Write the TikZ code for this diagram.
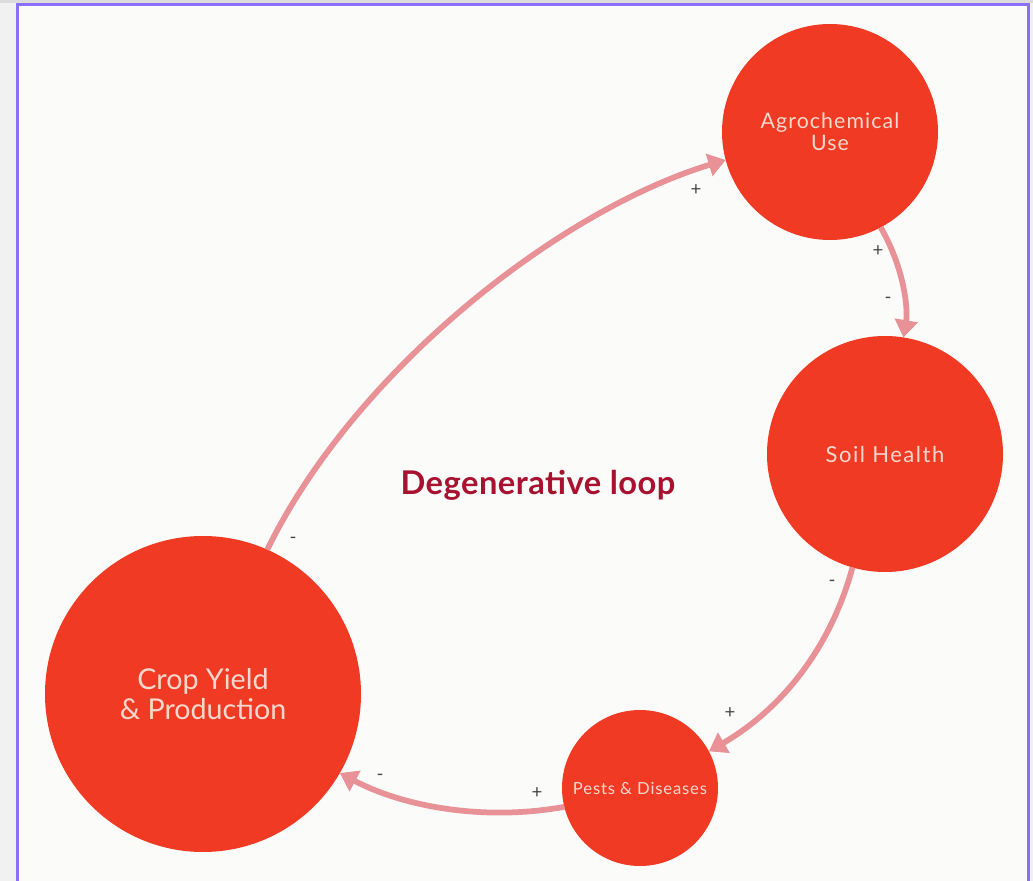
\documentclass[tikz,border=0pt]{standalone}
\usepackage{fontspec}
\setmainfont{Lato}
\newfontfamily\labelfont[LetterSpace=5]{Lato}
\newfontfamily\widelabelfont[LetterSpace=7]{Lato}
\newfontfamily\titlefont[LetterSpace=1.5]{Lato Bold}
\usetikzlibrary{arrows.meta}

\definecolor{pagebg}{RGB}{241,241,241}
\definecolor{topband}{RGB}{220,220,220}
\definecolor{framebg}{RGB}{251,251,249}
\definecolor{frameline}{RGB}{139,112,255}
\definecolor{circfill}{RGB}{240,58,35}
\definecolor{circtext}{RGB}{248,216,204}
\definecolor{linkcol}{RGB}{232,146,152}
\definecolor{titlecol}{RGB}{168,18,48}
\definecolor{signcol}{RGB}{70,70,70}

\tikzset{
  factor/.style={circle, fill=circfill, inner sep=0pt, outer sep=0pt,
    text=circtext, align=center},
  link/.style={draw=linkcol, line width=4.3pt,
    -{Triangle[width=17pt,length=13pt]}},
  sign/.style={text=signcol, inner sep=0pt, font=\fontsize{14pt}{15pt}\selectfont},
}

\begin{document}
\begin{tikzpicture}[x=0.75pt,y=-0.75pt]
  % page and frame
  \useasboundingbox (0,0) rectangle (1033,881);
  \fill[pagebg] (0,0) rectangle (1033,881);
  \fill[topband] (0,0) rectangle (1033,3);
  \filldraw[fill=framebg, draw=frameline, line width=2.3pt]
    (17.5,4.5) rectangle (1028.5,900);

  % factors
  \node[factor, minimum size=216*0.75pt,
        font=\labelfont\fontsize{16pt}{16.5pt}\selectfont] (agro) at (830,132) {Agrochemical\\Use};
  \node[factor, minimum size=236*0.75pt,
        font=\widelabelfont\fontsize{16.5pt}{17pt}\selectfont] (soil) at (885,454) {Soil Health};
  \node[factor, minimum size=156*0.75pt,
        font=\labelfont\fontsize{12.5pt}{13pt}\selectfont] (pests) at (640,788) {Pests \& Diseases};
  \node[factor, minimum size=316*0.75pt,
        font=\fontsize{21.5pt}{22pt}\selectfont] (crop) at (203,694) {Crop Yield\\\& Production};

  % title
  \node[text=titlecol, font=\titlefont\fontsize{24.5pt}{26pt}\selectfont] (title) at (538,485) {Degenerative loop};

  % causal links
  \draw[link] (crop.66) .. controls (355,370) and (560,210) .. (agro.195);
  \draw[link] (agro.-62) .. controls (905,270) and (908,310) .. (soil.81);
  \draw[link] (soil.-106) .. controls (830,650) and (780,710) .. (pests.28);
  \draw[link] (pests.194) .. controls (480,822) and (400,805) .. (crop.-30);

  % polarity marks
  \node[sign] (s1a) at (293,540) {-};
  \node[sign] (s1b) at (696,190) {+};
  \node[sign] (s2a) at (878,251) {+};
  \node[sign] (s2b) at (888,300) {-};
  \node[sign] (s3a) at (832,583) {-};
  \node[sign] (s3b) at (730,713) {+};
  \node[sign] (s4a) at (537,793) {+};
  \node[sign] (s4b) at (380,777) {-};
\end{tikzpicture}
\end{document}
